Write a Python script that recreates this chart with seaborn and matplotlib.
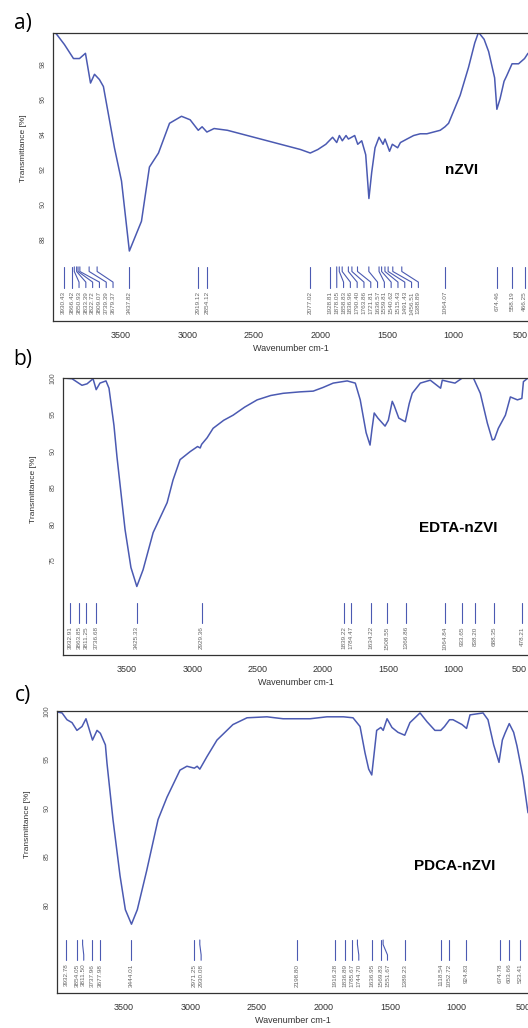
import matplotlib
matplotlib.use('Agg')
import matplotlib.pyplot as plt
import matplotlib.transforms as mtransforms
import pandas as pd
import seaborn as sns

# ---- spectrum a) nZVI ----
wn_a = [4011, 4000, 3985, 3925, 3857, 3812, 3767, 3729, 3699, 3662, 3632, 3594, 3549, 3496,
        3437, 3346, 3286, 3218, 3135, 3045, 2980, 2919, 2890, 2854, 2800, 2700, 2500, 2300,
        2150, 2077, 2020, 1960, 1909, 1878, 1858, 1836, 1808, 1790, 1743, 1720, 1690, 1660,
        1636, 1615, 1590, 1560, 1530, 1515, 1481, 1460, 1420, 1399, 1350, 1300, 1250, 1200,
        1150, 1100, 1064, 1037, 950, 887, 840, 812, 770, 736, 691, 674, 650, 620, 601, 560,
        511, 466, 440]
t_a = [99.8, 99.8, 99.7, 99.1, 98.3, 98.3, 98.6, 96.9, 97.4, 97.1, 96.7, 95.1, 93.2, 91.3,
       87.3, 89.0, 92.1, 92.9, 94.6, 95.0, 94.8, 94.2, 94.4, 94.1, 94.3, 94.2, 93.8, 93.4,
       93.1, 92.9, 93.1, 93.4, 93.8, 93.5, 93.9, 93.6, 93.9, 93.7, 93.9, 93.4, 93.6, 92.8,
       90.3, 91.8, 93.2, 93.8, 93.4, 93.7, 93.0, 93.4, 93.2, 93.5, 93.7, 93.9, 94.0, 94.0,
       94.1, 94.2, 94.4, 94.6, 96.2, 97.8, 99.2, 99.8, 99.4, 98.7, 97.2, 95.4, 96.0, 97.0,
       97.3, 98.0, 98.0, 98.3, 98.6]
peaks_a = [3930.43, 3866.42, 3850.93, 3833.39, 3822.72, 3809.07, 3739.39, 3679.37, 3437.82,
           2919.12, 2854.12, 2077.02, 1928.81, 1878.05, 1858.83, 1836.96, 1790.40, 1763.86,
           1721.81, 1636.57, 1559.81, 1540.62, 1515.43, 1491.43, 1456.51, 1388.89, 1064.07,
           674.46, 558.19, 466.25]

# ---- spectrum b) EDTA-nZVI ----
wn_b = [3990, 3921, 3845, 3806, 3760, 3736, 3707, 3661, 3638, 3600, 3577, 3515, 3470, 3425,
        3377, 3300, 3193, 3148, 3094, 3017, 2960, 2940, 2929, 2887, 2841, 2760, 2688, 2600,
        2504, 2400, 2305, 2175, 2075, 2000, 1922, 1815, 1753, 1715, 1670, 1640, 1625, 1608,
        1580, 1525, 1500, 1470, 1455, 1420, 1370, 1340, 1317, 1255, 1179, 1100, 1087, 1041,
        990, 934, 849, 796, 742, 704, 688, 658, 604, 566, 512, 478, 466, 431]
t_b = [100.0, 99.9, 99.0, 99.2, 99.9, 98.4, 99.3, 99.6, 98.6, 93.5, 89.2, 79.2, 74.0, 71.4,
       73.7, 78.8, 82.9, 86.0, 88.8, 89.9, 90.6, 90.4, 90.9, 91.8, 93.1, 94.2, 94.9, 96.0,
       97.0, 97.6, 97.9, 98.1, 98.2, 98.7, 99.3, 99.6, 99.3, 97.0, 92.5, 90.8, 93.0, 95.2,
       94.5, 93.4, 94.2, 96.8, 96.2, 94.5, 94.0, 96.5, 97.9, 99.3, 99.7, 98.6, 99.7, 99.5,
       99.3, 100.0, 100.0, 97.9, 93.8, 91.5, 91.6, 93.1, 94.9, 97.4, 97.0, 97.2, 99.5, 100.0]
peaks_b = [3932.91, 3863.85, 3811.25, 3736.68, 3425.33, 2929.36, 1839.22, 1784.47, 1634.22,
           1508.55, 1366.86, 1064.84, 933.65, 838.20, 688.35, 478.21]

# ---- spectrum c) PDCA-nZVI ----
wn_c = [4004, 3966, 3929, 3891, 3854, 3816, 3786, 3737, 3703, 3678, 3640, 3628, 3583, 3530,
        3490, 3444, 3400, 3330, 3244, 3177, 3079, 3027, 2971, 2950, 2930, 2876, 2801, 2681,
        2575, 2425, 2304, 2198, 2101, 1974, 1850, 1778, 1725, 1688, 1660, 1637, 1620, 1600,
        1569, 1551, 1522, 1485, 1440, 1389, 1350, 1274, 1222, 1162, 1118, 1090, 1052, 1026,
        958, 924, 898, 800, 763, 720, 680, 655, 635, 603, 570, 545, 500, 462]
t_c = [99.9, 99.8, 99.1, 98.8, 98.0, 98.4, 99.2, 97.0, 98.0, 97.7, 96.5, 94.6, 88.8, 83.0,
       79.5, 78.0, 79.5, 83.5, 88.8, 91.1, 93.9, 94.3, 94.1, 94.3, 94.0, 95.3, 97.0, 98.6,
       99.3, 99.4, 99.2, 99.2, 99.2, 99.4, 99.4, 99.3, 98.4, 95.7, 94.0, 93.4, 95.5, 98.0,
       98.3, 98.0, 99.2, 98.3, 97.8, 97.5, 98.8, 99.8, 98.9, 98.0, 98.0, 98.4, 99.1, 99.1,
       98.6, 98.2, 99.6, 99.8, 99.1, 96.5, 94.7, 97.0, 97.7, 98.7, 97.8, 96.4, 93.2, 89.5]
peaks_c = [3932.78, 3854.05, 3811.50, 3737.96, 3677.98, 3444.01, 2971.25, 2930.08, 2198.80,
           1916.28, 1836.89, 1785.67, 1744.70, 1636.95, 1569.83, 1551.67, 1389.23, 1118.54,
           1052.72, 924.83, 674.78, 603.66, 523.41]

x_ticks = [3500, 3000, 2500, 2000, 1500, 1000, 500]
yticks_a = [88, 90, 92, 94, 96, 98]
yticks_b = [75, 80, 85, 90, 95, 100]
yticks_c = [80, 85, 90, 95, 100]

LINE = '#4b5ab2'
FIG_W, FIG_H = 528, 1028

sns.set_style('white')
plt.rcParams['font.family'] = ['Liberation Sans', 'DejaVu Sans']


def spread(positions, gap):
    # push crowded peak labels to the right (lower wavenumber) so they don't overlap
    out = []
    for p in positions:
        if out and p > out[-1] - gap:
            p = out[-1] - gap
        out.append(p)
    return out


def draw_panel(fig, box, wn, t, xlim, ylim, yticks, peaks, name, name_xy, letter, letter_xy):
    left, top, right, bottom = box
    ax = fig.add_axes([left / FIG_W, 1 - bottom / FIG_H, (right - left) / FIG_W,
                       (bottom - top) / FIG_H])
    df = pd.DataFrame({'wn': wn, 't': t})
    sns.lineplot(data=df, x='wn', y='t', ax=ax, color=LINE, linewidth=1.1, sort=False)
    ax.set_xlim(*xlim)
    ax.set_ylim(*ylim)

    for side in ['left', 'bottom', 'top']:
        ax.spines[side].set_color('#333333')
        ax.spines[side].set_linewidth(0.9)
    ax.spines['right'].set_visible(False)

    ax.set_xticks(x_ticks)
    ax.set_xticklabels([str(v) for v in x_ticks], fontsize=6.5, color='#333333')
    ax.tick_params(axis='x', direction='inout', length=4, width=0.8, pad=5, colors='#333333')
    ax.set_yticks(yticks)
    ax.set_yticklabels([str(v) for v in yticks], fontsize=5, color='#555555',
                       rotation=90, va='center')
    ax.tick_params(axis='y', direction='out', length=2.5, width=0.7, pad=2, colors='#555555')

    ax.set_xlabel('Wavenumber cm-1', fontsize=6.5, color='#333333', labelpad=3)
    ax.set_ylabel('Transmittance [%]', fontsize=6, color='#333333', labelpad=3)
    ax.yaxis.set_label_coords(-0.055, 0.6)

    # peak table below the spectrum
    px_per_unit = (right - left) / (xlim[0] - xlim[1])
    label_pos = spread(peaks, 6.8 / px_per_unit)
    trans = mtransforms.blended_transform_factory(ax.transData, ax.transAxes)
    for w, p in zip(peaks, label_pos):
        ax.plot([w, w, p, p], [0.188, 0.172, 0.135, 0.116], transform=trans,
                color=LINE, linewidth=0.8)
        ax.text(p, 0.104, f'{w:.2f}', transform=trans, rotation=90, ha='center',
                va='top', fontsize=4.6, color='#666666', clip_on=True)

    ax.text(name_xy[0], name_xy[1], name, transform=ax.transAxes, fontsize=11,
            fontweight='bold', ha='center', va='center', color='black')
    fig.text(letter_xy[0] / FIG_W, 1 - letter_xy[1] / FIG_H, letter, fontsize=15,
             family='Open Sans', ha='center', va='center', color='black')
    return ax


fig = plt.figure(figsize=(FIG_W / 100, FIG_H / 100), dpi=100)

draw_panel(fig, (53, 33, 528, 321), wn_a, t_a, (4011, 440), (83.3, 99.76), yticks_a,
           peaks_a, 'nZVI', (0.861, 0.524), 'a)', (23, 23))
draw_panel(fig, (63, 378, 528, 655), wn_b, t_b, (3990, 431), (62.0, 100.0), yticks_b,
           peaks_b, 'EDTA-nZVI', (0.849, 0.458), 'b)', (23, 360))
draw_panel(fig, (57, 711, 528, 993), wn_c, t_c, (4004, 462), (70.9, 100.0), yticks_c,
           peaks_c, 'PDCA-nZVI', (0.845, 0.45), 'c)', (23, 696))

fig.savefig('out.png', dpi=100)
plt.close(fig)
